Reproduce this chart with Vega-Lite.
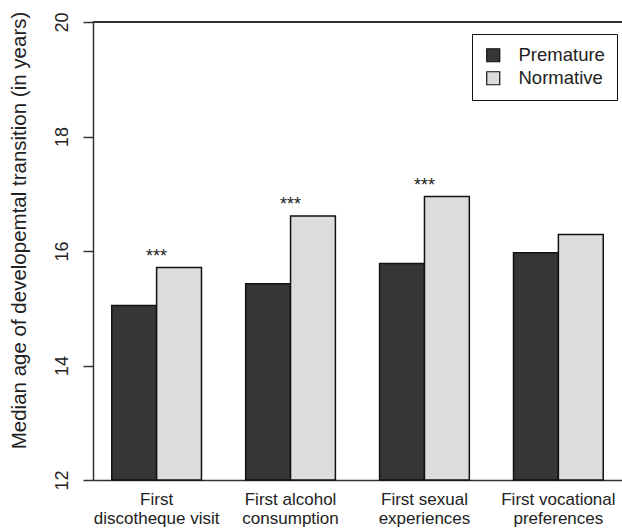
{
  "$schema": "https://vega.github.io/schema/vega-lite/v6.json",
  "width": 529,
  "height": 458,
  "autosize": {"type": "none"},
  "padding": {"left": 93, "top": 22, "right": 0, "bottom": 50},
  "background": "white",
  "config": {
    "font": "Liberation Sans",
    "view": {"stroke": null},
    "axis": {"domainColor": "#333", "tickColor": "#333", "labelColor": "#222", "titleColor": "#222", "grid": false, "domainWidth": 1.5, "tickWidth": 1.5}
  },
  "data": {
    "values": [
      {"event": "First|discotheque visit", "group": "Premature", "age": 15.05},
      {"event": "First|discotheque visit", "group": "Normative", "age": 15.71, "sig": "***"},
      {"event": "First alcohol|consumption", "group": "Premature", "age": 15.43},
      {"event": "First alcohol|consumption", "group": "Normative", "age": 16.61, "sig": "***"},
      {"event": "First sexual|experiences", "group": "Premature", "age": 15.78},
      {"event": "First sexual|experiences", "group": "Normative", "age": 16.95, "sig": "***"},
      {"event": "First vocational|preferences", "group": "Premature", "age": 15.97},
      {"event": "First vocational|preferences", "group": "Normative", "age": 16.29}
    ]
  },
  "encoding": {
    "x": {
      "field": "event", "type": "nominal", "sort": null,
      "scale": {"paddingInner": 0.33, "paddingOuter": 0.14},
      "axis": {"title": null, "labelAngle": 0, "ticks": false, "labelPadding": 11, "labelFontSize": 17, "labelLineHeight": 19, "labelExpr": "split(datum.value, '|')", "labelBaseline": "top"}
    },
    "y": {
      "field": "age", "type": "quantitative",
      "scale": {"domain": [12, 20], "zero": false, "nice": false},
      "axis": {"title": "Median age of developemtal transition (in years)", "values": [12, 14, 16, 18, 20], "tickSize": 10, "labelAngle": -90, "labelAlign": "center", "labelBaseline": "middle", "labelPadding": 21, "labelFontSize": 18, "titleFontSize": 20.5, "titleFontWeight": "normal", "titleX": -74, "titleY": 208, "titleBaseline": "middle", "titleAlign": "center", "titleAngle": 270}
    }
  },
  "layer": [
    {
      "mark": {"type": "bar", "stroke": "#111", "strokeWidth": 1.5},
      "encoding": {
        "xOffset": {"field": "group", "type": "nominal", "sort": ["Premature", "Normative"], "scale": {"paddingInner": 0, "paddingOuter": 0}},
        "y2": {"datum": 12},
        "fill": {
          "field": "group", "type": "nominal",
          "scale": {"domain": ["Premature", "Normative"], "range": ["#363636", "#dcdcdc"]},
          "legend": {"title": null, "orient": "none", "legendX": 379, "legendY": 12, "strokeColor": "#111", "padding": 12, "symbolType": "square", "symbolSize": 170, "symbolStrokeColor": "#111", "symbolStrokeWidth": 1.2, "labelFontSize": 18.5, "labelOffset": 16, "rowPadding": 4, "labelColor": "#222"}
        }
      }
    },
    {
      "transform": [{"filter": "isValid(datum.sig)"}],
      "mark": {"type": "text", "fontSize": 18, "dy": -6, "baseline": "alphabetic", "color": "#222"},
      "encoding": {"text": {"field": "sig"}}
    },
    {
      "mark": {"type": "rule", "color": "#333", "strokeWidth": 1.5},
      "encoding": {"y": {"datum": 20}, "x": null}
    }
  ]
}
